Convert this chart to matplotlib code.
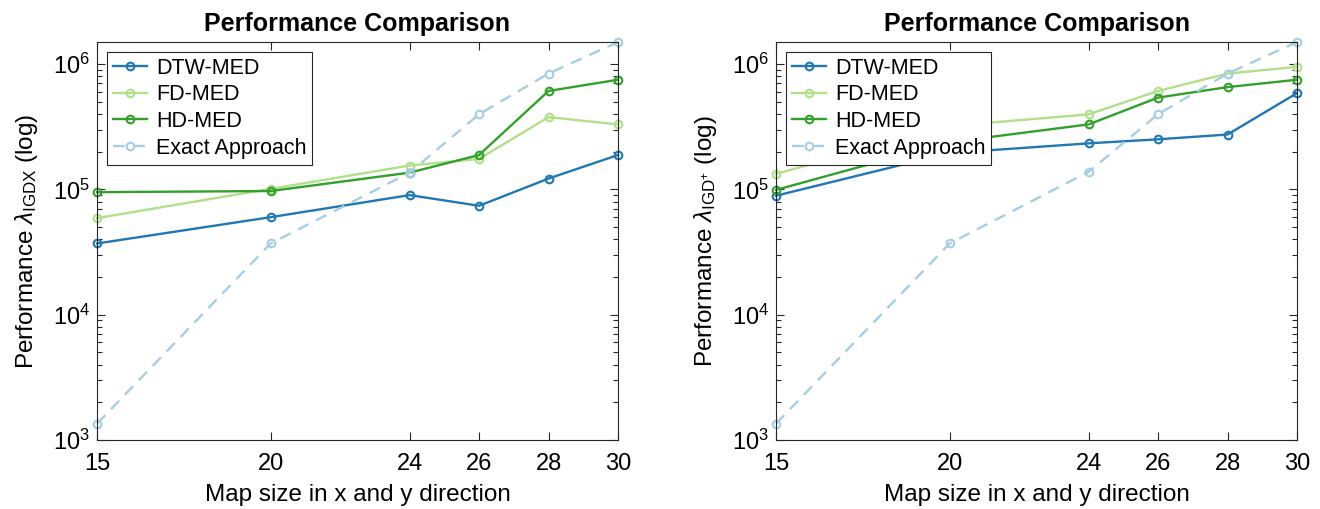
import matplotlib
matplotlib.use("Agg")
import matplotlib.pyplot as plt
from matplotlib.ticker import LogLocator, NullFormatter, FixedLocator

plt.rcParams['font.family'] = ['Liberation Sans', 'DejaVu Sans']
plt.rcParams['mathtext.fontset'] = 'custom'
plt.rcParams['mathtext.rm'] = 'Liberation Sans'
plt.rcParams['mathtext.it'] = 'Liberation Sans:italic'
plt.rcParams['mathtext.bf'] = 'Liberation Sans:bold'

map_sizes = [15, 20, 24, 26, 28, 30]
x_ticks = [15, 20, 24, 26, 28, 30]
series_names = ["DTW-MED", "FD-MED", "HD-MED", "Exact Approach"]

# Left panel: IGDX
igdx_dtw = [3.7e4, 6.0e4, 9.0e4, 7.4e4, 1.22e5, 1.88e5]
igdx_fd = [5.9e4, 1.01e5, 1.55e5, 1.75e5, 3.77e5, 3.3e5]
igdx_hd = [9.5e4, 9.7e4, 1.36e5, 1.88e5, 6.1e5, 7.5e5]
igdx_exact = [1.35e3, 3.7e4, 1.36e5, 3.98e5, 8.4e5, 1.5e6]

# Right panel: IGD+
igdp_dtw = [8.9e4, 1.95e5, 2.33e5, 2.51e5, 2.74e5, 5.86e5]
igdp_fd = [1.33e5, 3.2e5, 3.97e5, 6.1e5, 8.4e5, 9.5e5]
igdp_hd = [9.9e4, 2.38e5, 3.3e5, 5.4e5, 6.55e5, 7.5e5]
igdp_exact = [1.35e3, 3.7e4, 1.38e5, 3.98e5, 8.4e5, 1.5e6]

colors = ["#1f78b4", "#b2df8a", "#33a02c", "#a6cee3"]
styles = ["-", "-", "-", "--"]

fig = plt.figure(figsize=(13.2, 5.09), dpi=100)
W, H = 1320, 509
ax1 = fig.add_axes([97 / W, (H - 440) / H, 521 / W, 398 / H])
ax2 = fig.add_axes([776 / W, (H - 440) / H, 521 / W, 398 / H])

panels = [
    (ax1, [igdx_dtw, igdx_fd, igdx_hd, igdx_exact], r"Performance $\lambda_{\mathrm{IGDX}}$ (log)"),
    (ax2, [igdp_dtw, igdp_fd, igdp_hd, igdp_exact], r"Performance $\lambda_{\mathrm{IGD}^{+}}$ (log)"),
]

for ax, data, ylabel in panels:
    for vals, name, c, ls in zip(data, series_names, colors, styles):
        kw = dict(dashes=(5, 3.5)) if ls == "--" else {}
        ax.plot(map_sizes, vals, ls, color=c, lw=1.7, marker="o", ms=5.5,
                mfc="none", mew=1.5, label=name, clip_on=False, **kw)
    ax.set_yscale("log")
    ax.set_xlim(15, 30)
    ax.set_ylim(1e3, 1.5e6)
    ax.xaxis.set_major_locator(FixedLocator(x_ticks))
    ax.yaxis.set_major_locator(LogLocator(base=10, numticks=10))
    ax.yaxis.set_minor_locator(LogLocator(base=10, subs=range(2, 10), numticks=20))
    ax.yaxis.set_minor_formatter(NullFormatter())
    ax.tick_params(which="both", direction="in", top=True, right=True,
                   labelsize=17, width=0.8, color="#262626")
    ax.tick_params(which="major", length=6)
    ax.tick_params(which="minor", length=3.5)
    ax.tick_params(axis="x", pad=9)
    ax.tick_params(axis="y", pad=5)
    for s in ax.spines.values():
        s.set_linewidth(0.8)
        s.set_color("#262626")
    ax.set_xlabel("Map size in x and y direction", fontsize=17.5, labelpad=7)
    ax.set_ylabel(ylabel, fontsize=17.5, labelpad=9)
    ax.set_title("Performance Comparison", fontsize=18, fontweight="bold", pad=8)
    leg = ax.legend(loc="upper left", fontsize=15.5, frameon=True, fancybox=False,
                    edgecolor="#262626", framealpha=1, borderpad=0.28,
                    handlelength=1.6, handletextpad=0.4, labelspacing=0.26,
                    borderaxespad=0.45)
    leg.get_frame().set_linewidth(0.8)

fig.savefig("out.png", dpi=100)
